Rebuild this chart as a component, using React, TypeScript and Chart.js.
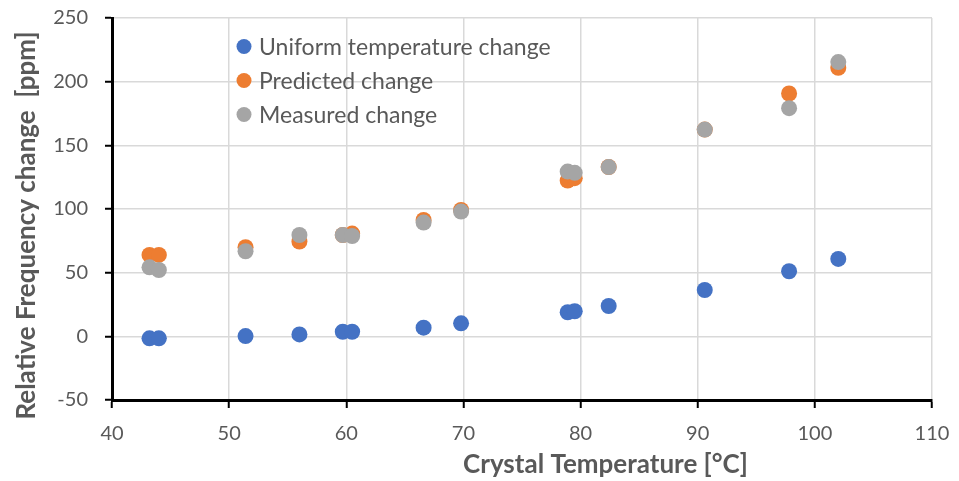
import React, { useEffect, useRef } from "react";
import { Chart, registerables } from "chart.js";

Chart.register(...registerables);

// ---- Data ----
const temperatures = [43.2, 44.0, 51.4, 56.0, 59.7, 60.5, 66.6, 69.8, 78.9, 79.5, 82.4, 90.6, 97.8, 102.0];
const uniformChange = [-1.6, -1.6, 0.2, 1.5, 3.6, 3.6, 6.8, 10.2, 18.9, 19.7, 23.8, 36.4, 51.1, 60.8];
const predictedChange = [63.9, 63.9, 70.0, 74.4, 79.6, 80.7, 91.4, 99.3, 122.3, 124.2, 133.0, 162.4, 190.7, 210.9];
const measuredChange = [54.2, 52.1, 66.8, 79.6, 79.6, 78.8, 89.3, 98.0, 129.4, 128.4, 132.9, 162.4, 179.2, 215.4];

const seriesLabels = ["Uniform temperature change", "Predicted change", "Measured change"];
const seriesColors = ["#4472C4", "#ED7D31", "#A5A5A5"];

const xTitle = "Crystal Temperature [°C]";
const yTitle = "Relative Frequency change  [ppm]";
const xMin = 40, xMax = 110, xStep = 10;
const yMin = -50, yMax = 250, yStep = 50;

const FONT = "Lato, 'Open Sans', sans-serif";
const TEXT_COLOR = "#595959";

const toPoints = (ys: number[]) => temperatures.map((x, i) => ({ x, y: ys[i] }));

const overlayPlugin = {
  id: "overlay",
  afterDraw(chart: any) {
    const ctx: CanvasRenderingContext2D = chart.ctx;
    ctx.save();
    // Legend (inside plot area, no background)
    ctx.font = `23px ${FONT}`;
    ctx.textAlign = "left";
    ctx.textBaseline = "middle";
    const legendX = 244;
    const legendY = [46.5, 80.5, 114.5];
    chart.data.datasets.forEach((ds: any, i: number) => {
      ctx.fillStyle = ds.backgroundColor;
      ctx.beginPath();
      ctx.arc(legendX, legendY[i], 7.5, 0, Math.PI * 2);
      ctx.fill();
      ctx.fillStyle = TEXT_COLOR;
      ctx.fillText(ds.label, legendX + 15, legendY[i] + 1);
    });
    // Axis titles
    ctx.font = `bold 26px ${FONT}`;
    ctx.fillStyle = TEXT_COLOR;
    ctx.textAlign = "center";
    ctx.textBaseline = "middle";
    ctx.fillText(xTitle, 605.5, 465);
    ctx.translate(27, 225.5);
    ctx.rotate(-Math.PI / 2);
    ctx.fillText(yTitle, 0, 0);
    ctx.restore();
  },
};

export default function App() {
  const ref = useRef<HTMLCanvasElement>(null);

  useEffect(() => {
    const datasets = [uniformChange, predictedChange, measuredChange].map((ys, i) => ({
      label: seriesLabels[i],
      data: toPoints(ys),
      backgroundColor: seriesColors[i],
      borderColor: seriesColors[i],
      pointRadius: 8,
      pointBorderWidth: 0,
      pointHoverRadius: 8,
      showLine: false,
      order: 3 - i,
    }));

    const chart = new Chart(ref.current as HTMLCanvasElement, {
      type: "scatter",
      data: { datasets },
      plugins: [overlayPlugin],
      options: {
        responsive: false,
        animation: false,
        devicePixelRatio: 1,
        layout: { padding: { top: 18, right: 27, left: 0, bottom: 0 } },
        plugins: {
          legend: { display: false },
          tooltip: { enabled: false },
        },
        scales: {
          x: {
            type: "linear",
            min: xMin,
            max: xMax,
            afterFit: (s: any) => {
              s.height = 81;
              s.paddingLeft = 0;
              s.paddingRight = 0;
            },
            ticks: {
              stepSize: xStep,
              color: TEXT_COLOR,
              font: { family: FONT, size: 20 },
              padding: 14,
              maxRotation: 0,
            },
            grid: {
              color: "#D9D9D9",
              lineWidth: 1.5,
              tickColor: "#000000",
              tickLength: 8,
              tickWidth: 2,
            },
            border: { display: true, color: "#000000", width: 3 },
          },
          y: {
            type: "linear",
            min: yMin,
            max: yMax,
            afterFit: (s: any) => {
              s.width = 112;
              s.paddingTop = 0;
              s.paddingBottom = 0;
            },
            ticks: {
              stepSize: yStep,
              color: TEXT_COLOR,
              font: { family: FONT, size: 20 },
              padding: 17,
            },
            grid: {
              color: "#D9D9D9",
              lineWidth: 1.5,
              tickColor: "#000000",
              tickLength: 7,
              tickWidth: 2,
            },
            border: { display: true, color: "#000000", width: 3 },
          },
        },
      },
    });
    return () => chart.destroy();
  }, []);

  return (
    <div style={{ position: "absolute", left: 0, top: 0, width: 959, height: 481, background: "#ffffff" }}>
      <canvas ref={ref} width={959} height={481} style={{ display: "block", width: 959, height: 481 }} />
    </div>
  );
}
